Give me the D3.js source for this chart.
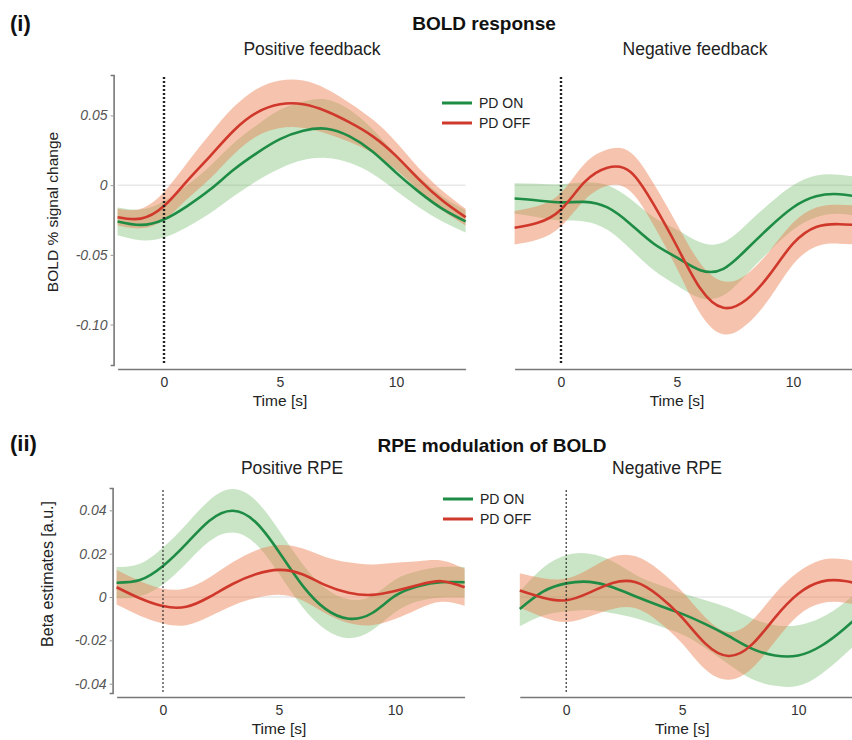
<!DOCTYPE html>
<html><head><meta charset="utf-8">
<script src="https://cdn.jsdelivr.net/npm/d3@7"></script>
<style>
html,body{margin:0;padding:0;background:#fff;}
svg text{font-family:"Liberation Sans",Arial,Helvetica,sans-serif;}
</style></head>
<body><svg id="chart" width="852" height="740"></svg>
<script>
// ---------- data ----------
const time = [-2,-1,0,1,2,3,4,5,6,7,8,9,10,11,12,13];
const xTicks = [0,5,10];
const boldTicks = [0.05,0,-0.05,-0.10];
const betaTicks = [0.04,0.02,0,-0.02,-0.04];
const seriesNames = ["PD ON","PD OFF"];

// (i) BOLD response – positive feedback
const posFbOnMean  = [-0.026,-0.0285,-0.0246,-0.015,-0.003,0.011,0.023,0.033,0.039,0.0405,0.035,0.024,0.009,-0.005,-0.017,-0.026];
const posFbOnErr   = [0.010,0.011,0.013,0.015,0.017,0.019,0.020,0.021,0.021,0.021,0.019,0.016,0.013,0.011,0.009,0.008];
const posFbOffMean = [-0.023,-0.024,-0.015,0.003,0.021,0.039,0.052,0.058,0.058,0.053,0.045,0.035,0.021,0.004,-0.011,-0.023];
const posFbOffErr  = [0.006,0.007,0.010,0.013,0.016,0.017,0.017,0.017,0.017,0.016,0.014,0.012,0.010,0.008,0.007,0.006];
// (i) BOLD response – negative feedback
const negFbOnMean  = [-0.0096,-0.011,-0.0124,-0.012,-0.016,-0.028,-0.042,-0.052,-0.061,-0.060,-0.046,-0.030,-0.016,-0.008,-0.0065,-0.009];
const negFbOnErr   = [0.011,0.012,0.013,0.014,0.016,0.018,0.019,0.020,0.020,0.019,0.018,0.017,0.016,0.015,0.014,0.014];
const negFbOffMean = [-0.0306,-0.027,-0.0175,0.002,0.0125,0.0095,-0.014,-0.044,-0.074,-0.088,-0.082,-0.064,-0.042,-0.030,-0.028,-0.029];
const negFbOffErr  = [0.012,0.012,0.012,0.013,0.013,0.014,0.015,0.016,0.018,0.019,0.018,0.017,0.015,0.014,0.014,0.014];
// (ii) RPE modulation – positive RPE
const posRpeOnMean  = [0.0066,0.0078,0.0143,0.0245,0.0352,0.0398,0.0345,0.0208,0.0055,-0.0055,-0.010,-0.0075,0.0005,0.005,0.0068,0.0068];
const posRpeOnErr   = [0.0072,0.0075,0.0085,0.009,0.0095,0.010,0.010,0.010,0.010,0.0095,0.009,0.008,0.0075,0.007,0.007,0.007];
const posRpeOffMean = [0.0045,-0.0006,-0.0042,-0.0045,0.0000,0.006,0.0105,0.0125,0.0105,0.0055,0.002,0.001,0.0028,0.0055,0.0073,0.0045];
const posRpeOffErr  = [0.008,0.008,0.008,0.0085,0.009,0.010,0.011,0.0115,0.012,0.013,0.014,0.014,0.013,0.011,0.0095,0.0085];
// (ii) RPE modulation – negative RPE
const negRpeOnMean  = [-0.0055,0.0025,0.0063,0.007,0.0045,0.0002,-0.0039,-0.0078,-0.0125,-0.018,-0.0238,-0.027,-0.027,-0.0225,-0.0145,-0.005];
const negRpeOnErr   = [0.008,0.011,0.013,0.013,0.012,0.010,0.0095,0.0095,0.011,0.013,0.014,0.014,0.014,0.013,0.012,0.012];
const negRpeOffMean = [0.003,-0.0003,-0.0015,0.002,0.0065,0.0068,0.0005,-0.0095,-0.0215,-0.0272,-0.022,-0.0095,0.0015,0.0071,0.0074,0.005];
const negRpeOffErr  = [0.008,0.009,0.010,0.011,0.012,0.012,0.012,0.012,0.012,0.011,0.011,0.011,0.010,0.010,0.010,0.010];

// ---------- style ----------
const green = "#1e8c45", red = "#d0382c";
const greenFill = "rgb(101,181,92)", redFill = "rgb(235,124,75)";
const svg = d3.select("#chart");

function panel(o){
  const x = d3.scaleLinear().domain([-2,13]).range(o.xr);
  const y = d3.scaleLinear().domain(o.yd).range(o.yr);
  const g = svg.append("g");
  // zero line
  g.append("line").attr("x1",x(-2)).attr("x2",x(13)).attr("y1",y(0)).attr("y2",y(0))
    .attr("stroke","#dcdcdc").attr("stroke-width",1);
  const series = [
    {m:o.on, e:o.onE, c:green, f:greenFill, fo:0.35},
    {m:o.off, e:o.offE, c:red, f:redFill, fo:0.45}
  ];
  const area = d => d3.area().curve(d3.curveNatural)
      .x((v,i)=>x(time[i])).y0((v,i)=>y(d.m[i]-d.e[i])).y1((v,i)=>y(d.m[i]+d.e[i]))(d.m);
  series.forEach(d=>{
    g.append("path").attr("d",area(d)).attr("fill",d.f).attr("fill-opacity",d.fo);
  });
  series.forEach(d=>{
    g.append("path").attr("d",d3.line().curve(d3.curveNatural).x((v,i)=>x(time[i])).y(v=>y(v))(d.m))
      .attr("fill","none").attr("stroke",d.c).attr("stroke-width",2.6);
  });
  // onset dotted line
  g.append("line").attr("x1",x(0)).attr("x2",x(0)).attr("y1",o.yr[1]+2).attr("y2",o.yr[0])
    .attr("stroke","#222").attr("stroke-width",o.dotW).attr("stroke-dasharray",o.dash);
  // x axis
  const xa = g.append("g").attr("transform",`translate(0,${o.yr[0]+4})`)
    .call(d3.axisBottom(x).tickValues(xTicks).tickSize(0).tickPadding(8).tickFormat(d3.format("d")));
  xa.select(".domain").attr("stroke","#777").attr("stroke-width",1.6);
  xa.selectAll("text").attr("font-size",14).attr("fill","#333")
    .style("font-family","'Liberation Sans',Arial,sans-serif");
  g.append("text").attr("x",x(5)).attr("y",o.yr[0]+41).attr("text-anchor","middle")
    .attr("font-size",15.5).attr("fill","#222").text("Time [s]");
  if(o.yTicks){
    const ya = g.append("g").attr("transform",`translate(${o.xr[0]-4},0)`)
      .call(d3.axisLeft(y).tickValues(o.yTicks).tickSize(3).tickPadding(3).tickFormat(o.fmt));
    ya.select(".domain").attr("stroke","#777").attr("stroke-width",1.6);
    ya.selectAll(".tick line").attr("stroke","#999");
    ya.selectAll("text").attr("font-size",14).attr("fill","#555").attr("font-style","italic")
      .style("font-family","'Liberation Sans',Arial,sans-serif");
    g.append("text").attr("transform",`translate(${o.ylabX},${o.ylabY}) rotate(-90)`)
      .attr("text-anchor","middle").attr("font-size",o.ylabSize).attr("fill","#222").text(o.ylab);
  }
  g.append("text").attr("x",o.titleX).attr("y",o.titleY).attr("text-anchor","middle")
    .attr("font-size",17.5).attr("fill","#222").text(o.title);
}

const fmtBold = d => d===0 ? "0" : d3.format(".2f")(d).replace("−","-");
const fmtBeta = d => d===0 ? "0" : d3.format(".2f")(d).replace("−","-");
const boldY = {yd:[-0.129,0.079], yr:[365,75]};
const betaY = {yd:[-0.0443,0.0503], yr:[693,488]};

panel({xr:[117.6,465.6], ...boldY, on:posFbOnMean, onE:posFbOnErr, off:posFbOffMean, offE:posFbOffErr,
  dotW:2.4, dash:"2,2", yTicks:boldTicks, fmt:fmtBold, ylab:"BOLD % signal change", ylabX:58, ylabY:212, ylabSize:15.5,
  title:"Positive feedback", titleX:312, titleY:55});
panel({xr:[514.6,862.6], ...boldY, on:negFbOnMean, onE:negFbOnErr, off:negFbOffMean, offE:negFbOffErr,
  dotW:2.4, dash:"2,2", title:"Negative feedback", titleX:695, titleY:55});
panel({xr:[116.6,464.6], ...betaY, on:posRpeOnMean, onE:posRpeOnErr, off:posRpeOffMean, offE:posRpeOffErr,
  dotW:1.1, dash:"2,2", yTicks:betaTicks, fmt:fmtBeta, ylab:"Beta estimates [a.u.]", ylabX:53, ylabY:574, ylabSize:16,
  title:"Positive RPE", titleX:292, titleY:474});
panel({xr:[519.8,867.8], ...betaY, on:negRpeOnMean, onE:negRpeOnErr, off:negRpeOffMean, offE:negRpeOffErr,
  dotW:1.1, dash:"2,2", title:"Negative RPE", titleX:667, titleY:474});

// legends
function legend(x0, y0){
  const cols=[green,red];
  seriesNames.forEach((n,i)=>{
    svg.append("line").attr("x1",x0).attr("x2",x0+30).attr("y1",y0+i*20).attr("y2",y0+i*20)
      .attr("stroke",cols[i]).attr("stroke-width",3);
    svg.append("text").attr("x",x0+37).attr("y",y0+i*20+5).attr("font-size",14).attr("fill","#222").text(n);
  });
}
legend(442,103);
legend(443,499);

// panel headers
svg.append("text").attr("x",10).attr("y",31).attr("font-size",22).attr("font-weight","bold").attr("fill","#111").text("(i)");
svg.append("text").attr("x",484).attr("y",30).attr("text-anchor","middle").attr("font-size",19).attr("font-weight","bold").attr("fill","#111").text("BOLD response");
svg.append("text").attr("x",10).attr("y",451).attr("font-size",22).attr("font-weight","bold").attr("fill","#111").text("(ii)");
svg.append("text").attr("x",492).attr("y",452).attr("text-anchor","middle").attr("font-size",19).attr("font-weight","bold").attr("fill","#111").text("RPE modulation of BOLD");
</script></body></html>
